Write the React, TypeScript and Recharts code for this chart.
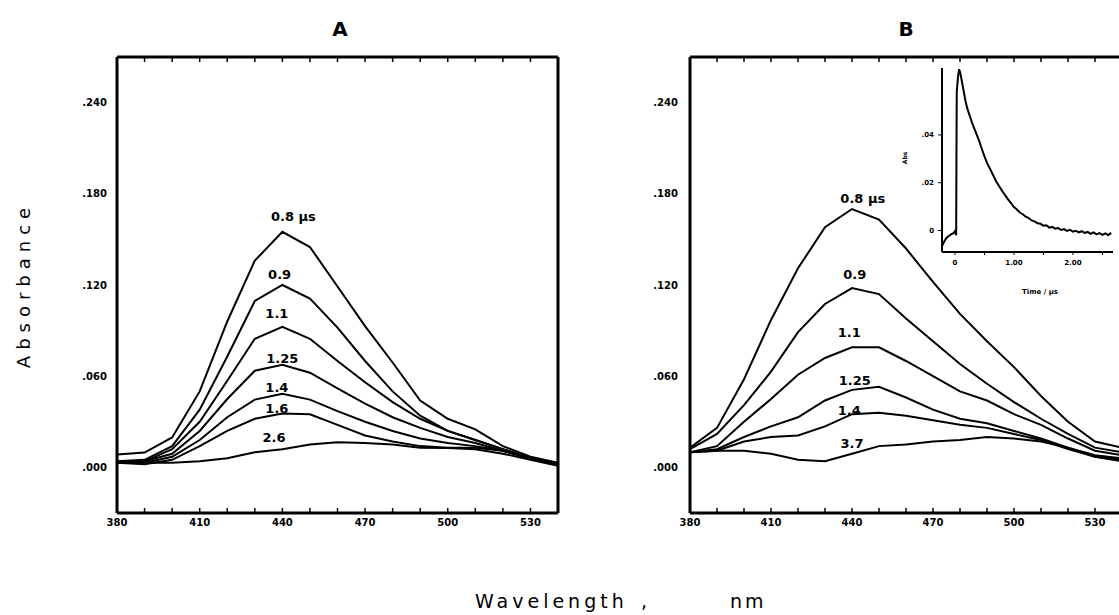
import React from 'react';
import { LineChart, Line, XAxis, YAxis, ReferenceDot } from 'recharts';

// ---------- data ----------
const WAVELENGTHS = [380, 390, 400, 410, 420, 430, 440, 450, 460, 470, 480, 490, 500, 510, 520, 530, 540];

// Panel A
const A_08 = [0.0085, 0.0098, 0.0197, 0.050, 0.096, 0.136, 0.155, 0.145, 0.119, 0.093, 0.069, 0.044, 0.032, 0.025, 0.014, 0.007, 0.003];
const A_09 = [0.004, 0.005, 0.014, 0.038, 0.073, 0.1095, 0.120, 0.111, 0.092, 0.070, 0.050, 0.034, 0.024, 0.018, 0.012, 0.006, 0.002];
const A_11 = [0.003, 0.004, 0.012, 0.030, 0.057, 0.0846, 0.0925, 0.0846, 0.070, 0.056, 0.043, 0.032, 0.024, 0.018, 0.012, 0.006, 0.002];
const A_125 = [0.004, 0.004, 0.009, 0.024, 0.045, 0.0636, 0.0675, 0.0623, 0.052, 0.042, 0.033, 0.026, 0.020, 0.016, 0.011, 0.006, 0.002];
const A_14 = [0.004, 0.003, 0.007, 0.018, 0.033, 0.0446, 0.0485, 0.0446, 0.037, 0.030, 0.024, 0.019, 0.016, 0.014, 0.011, 0.006, 0.002];
const A_16 = [0.003, 0.002, 0.005, 0.014, 0.024, 0.032, 0.0354, 0.035, 0.028, 0.021, 0.017, 0.014, 0.013, 0.013, 0.011, 0.006, 0.002];
const A_26 = [0.003, 0.003, 0.003, 0.004, 0.006, 0.010, 0.012, 0.015, 0.0165, 0.016, 0.015, 0.013, 0.0127, 0.012, 0.009, 0.005, 0.001];

// Panel B
const B_08 = [0.013, 0.026, 0.058, 0.097, 0.131, 0.158, 0.170, 0.163, 0.144, 0.122, 0.101, 0.083, 0.066, 0.047, 0.030, 0.017, 0.013];
const B_09 = [0.012, 0.022, 0.041, 0.063, 0.089, 0.1075, 0.118, 0.114, 0.098, 0.083, 0.068, 0.055, 0.043, 0.032, 0.022, 0.013, 0.010];
const B_11 = [0.010, 0.014, 0.030, 0.045, 0.061, 0.072, 0.079, 0.079, 0.070, 0.060, 0.050, 0.044, 0.035, 0.028, 0.019, 0.011, 0.008];
const B_125 = [0.010, 0.012, 0.020, 0.027, 0.033, 0.044, 0.051, 0.053, 0.046, 0.038, 0.032, 0.029, 0.024, 0.019, 0.013, 0.008, 0.006];
const B_14 = [0.010, 0.011, 0.017, 0.020, 0.021, 0.027, 0.035, 0.036, 0.034, 0.031, 0.028, 0.026, 0.022, 0.018, 0.012, 0.007, 0.005];
const B_37 = [0.010, 0.011, 0.011, 0.009, 0.005, 0.004, 0.009, 0.014, 0.015, 0.017, 0.018, 0.020, 0.019, 0.017, 0.013, 0.007, 0.004];

// curve labels (text, wavelength, absorbance)
const A_LABELS = ['0.8 \u00b5s', '0.9', '1.1', '1.25', '1.4', '1.6', '2.6'];
const A_LABEL_NM = [444, 439, 438, 440, 438, 438, 437];
const A_LABEL_ABS = [0.165, 0.127, 0.101, 0.072, 0.0525, 0.039, 0.0197];

const B_LABELS = ['0.8 \u00b5s', '0.9', '1.1', '1.25', '1.4', '3.7'];
const B_LABEL_NM = [444, 441, 439, 441, 439, 440];
const B_LABEL_ABS = [0.177, 0.127, 0.0885, 0.057, 0.0374, 0.0157];

// axis ticks
const X_MAJOR = [380, 410, 440, 470, 500, 530];
const X_MINOR = [390, 400, 410, 420, 430, 440, 450, 460, 470, 480, 490, 500, 510, 520, 530];
const Y_MAJOR = [0, 0.06, 0.12, 0.18, 0.24];
const Y_MINOR = [0, 0.03, 0.06, 0.09, 0.12, 0.15, 0.18, 0.21, 0.24];

// inset: transient absorbance vs time
const INSET_TIME = [-0.22, -0.18, -0.14, -0.1, -0.06, -0.02, 0.0, 0.02, 0.025, 0.03, 0.05, 0.07, 0.09, 0.12, 0.15, 0.18, 0.21, 0.25, 0.29, 0.33, 0.37, 0.41, 0.45, 0.5, 0.55, 0.6, 0.65, 0.7, 0.75, 0.8, 0.85, 0.9, 0.95, 1.0, 1.05, 1.1, 1.15, 1.2, 1.25, 1.3, 1.35, 1.4, 1.45, 1.5, 1.55, 1.6, 1.65, 1.7, 1.75, 1.8, 1.85, 1.9, 1.95, 2.0, 2.05, 2.1, 2.15, 2.2, 2.25, 2.3, 2.35, 2.4, 2.45, 2.5, 2.55, 2.6, 2.65];
const INSET_ABS = [-0.0065, -0.0045, -0.003, -0.0022, -0.0015, -0.001, -0.0003, -0.002, 0.030, 0.058, 0.064, 0.0675, 0.066, 0.062, 0.058, 0.054, 0.051, 0.048, 0.045, 0.0425, 0.040, 0.0375, 0.0345, 0.031, 0.028, 0.0255, 0.023, 0.0205, 0.0185, 0.0165, 0.0148, 0.013, 0.0115, 0.0098, 0.0088, 0.0075, 0.0068, 0.0058, 0.0052, 0.0042, 0.0038, 0.003, 0.0028, 0.002, 0.0022, 0.0012, 0.0015, 0.0008, 0.001, 0.0002, 0.0006, -0.0002, 0.0003, -0.0005, -0.0001, -0.0008, -0.0003, -0.001, -0.0006, -0.0014, -0.0008, -0.0016, -0.0011, -0.0018, -0.0012, -0.0019, -0.001];
const INSET_X_TICKS = [0, 0.5, 1, 1.5, 2, 2.5];
const INSET_X_LABELS = ['0', '', '1.00', '', '2.00', ''];
const INSET_Y_TICKS = [0, 0.02, 0.04];
const INSET_Y_LABELS = ['0', '.02', '.04'];

// ---------- helpers ----------
const FONT = '"DejaVu Sans", "Noto Sans", sans-serif';
const tickText = { fontSize: 10, fontWeight: 700, fill: '#000', fontFamily: FONT };
const fmtAbs = (v: number) => v.toFixed(3).replace(/^0\./, '.').replace(/^-0\./, '-.');
const blank = () => '';
const Y_DOMAIN: [number, number] = [-0.03, 0.27];

type Series = { key: string; values: number[] };

function buildRows(series: Series[]) {
  return WAVELENGTHS.map((nm, i) => {
    const row: Record<string, number> = { nm };
    series.forEach((s) => {
      row[s.key] = s.values[i];
    });
    return row;
  });
}

type PanelProps = {
  left: number;
  width: number;
  margin: { top: number; right: number; bottom: number; left: number };
  yLabelGap: number;
  series: Series[];
  labels: string[];
  labelNm: number[];
  labelAbs: number[];
};

function Panel({ left, width, margin, yLabelGap, series, labels, labelNm, labelAbs }: PanelProps) {
  const data = buildRows(series);
  const frame = { stroke: '#000', strokeWidth: 3 };
  const tl = { stroke: '#000', strokeWidth: 1.5 };
  return (
    <div style={{ position: 'absolute', left, top: 0 }}>
      <LineChart width={width} height={615} data={data} margin={margin}>
        <XAxis xAxisId="b" dataKey="nm" type="number" domain={[380, 540]} ticks={X_MAJOR} interval={0}
          tickLine={false} tickSize={3} tickMargin={3} height={30} axisLine={frame} tick={tickText} allowDataOverflow />
        <XAxis xAxisId="bm" dataKey="nm" type="number" domain={[380, 540]} ticks={X_MINOR} interval={0}
          mirror tickSize={5} tickFormatter={blank} axisLine={false} tickLine={tl} height={10} />
        <XAxis xAxisId="t" orientation="top" dataKey="nm" type="number" domain={[380, 540]} ticks={X_MINOR} interval={0}
          mirror tickSize={5} tickFormatter={blank} axisLine={frame} tickLine={tl} height={10} />
        <YAxis yAxisId="l" type="number" domain={Y_DOMAIN} ticks={Y_MAJOR} interval={0} width={60}
          tickLine={false} tickSize={yLabelGap} tickMargin={2} tickFormatter={fmtAbs} axisLine={frame} tick={tickText} allowDataOverflow />
        <YAxis yAxisId="lm" type="number" domain={Y_DOMAIN} ticks={Y_MINOR} interval={0} width={10}
          mirror tickSize={5} tickFormatter={blank} axisLine={false} tickLine={tl} />
        <YAxis yAxisId="r" orientation="right" type="number" domain={Y_DOMAIN} ticks={Y_MINOR} interval={0} width={10}
          mirror tickSize={5} tickFormatter={blank} axisLine={frame} tickLine={tl} />
        {series.map((s) => (
          <Line key={s.key} xAxisId="b" yAxisId="l" dataKey={s.key} type="linear" stroke="#000" strokeWidth={2}
            dot={false} activeDot={false} isAnimationActive={false} />
        ))}
        {labels.map((txt, i) => (
          <ReferenceDot key={txt} xAxisId="b" yAxisId="l" x={labelNm[i]} y={labelAbs[i]} r={0} stroke="none" fill="none"
            label={{ value: txt, position: 'center', fontSize: 13, fontWeight: 700, fill: '#000', fontFamily: FONT }} />
        ))}
      </LineChart>
    </div>
  );
}

function Inset() {
  const data = INSET_TIME.map((t, i) => ({ t, a: INSET_ABS[i] }));
  const ax = { stroke: '#000', strokeWidth: 2 };
  const small = { fontSize: 7, fontWeight: 700, fill: '#000', fontFamily: FONT };
  return (
    <div style={{ position: 'absolute', left: 880, top: 60 }}>
      <LineChart width={239} height={240} data={data} margin={{ top: 8, right: 6, bottom: 28, left: 32 }}>
        <XAxis dataKey="t" type="number" domain={[-0.22, 2.68]} ticks={INSET_X_TICKS} interval={0}
          tickFormatter={(v: number) => INSET_X_LABELS[INSET_X_TICKS.indexOf(v)] ?? ''}
          tickSize={3} tickMargin={5} height={20} axisLine={ax} tickLine={{ stroke: '#000', strokeWidth: 1 }} tick={small} allowDataOverflow />
        <YAxis type="number" domain={[-0.009, 0.068]} ticks={INSET_Y_TICKS} interval={0} width={30}
          tickFormatter={(v: number) => INSET_Y_LABELS[INSET_Y_TICKS.indexOf(v)] ?? ''}
          tickSize={4} tickMargin={4} axisLine={ax} tickLine={{ stroke: '#000', strokeWidth: 1 }} tick={small} allowDataOverflow />
        <Line dataKey="a" type="linear" stroke="#000" strokeWidth={2} dot={false} activeDot={false} isAnimationActive={false} />
      </LineChart>
    </div>
  );
}

export default function App() {
  const seriesA: Series[] = [
    { key: 'a08', values: A_08 },
    { key: 'a09', values: A_09 },
    { key: 'a11', values: A_11 },
    { key: 'a125', values: A_125 },
    { key: 'a14', values: A_14 },
    { key: 'a16', values: A_16 },
    { key: 'a26', values: A_26 },
  ];
  const seriesB: Series[] = [
    { key: 'b08', values: B_08 },
    { key: 'b09', values: B_09 },
    { key: 'b11', values: B_11 },
    { key: 'b125', values: B_125 },
    { key: 'b14', values: B_14 },
    { key: 'b37', values: B_37 },
  ];
  return (
    <div style={{ position: 'absolute', left: 0, top: 0, width: 1119, height: 615, overflow: 'hidden', background: '#fff' }}>
      <Panel left={0} width={600} margin={{ top: 57, right: 42, bottom: 72, left: 57 }} yLabelGap={8}
        series={seriesA} labels={A_LABELS} labelNm={A_LABEL_NM} labelAbs={A_LABEL_ABS} />
      <Panel left={600} width={560} margin={{ top: 57, right: 38, bottom: 72, left: 30 }} yLabelGap={10}
        series={seriesB} labels={B_LABELS} labelNm={B_LABEL_NM} labelAbs={B_LABEL_ABS} />
      <Inset />
      <svg width={1119} height={615} style={{ position: 'absolute', left: 0, top: 0, pointerEvents: 'none' }}>
        <text x={340} y={36} textAnchor="middle" fontSize={20} fontWeight={700} fontFamily={FONT}>A</text>
        <text x={906} y={36} textAnchor="middle" fontSize={20} fontWeight={700} fontFamily={FONT}>B</text>
        <text x={0} y={0} transform="translate(30,285) rotate(-90)" textAnchor="middle" fontSize={18} fontWeight={500}
          letterSpacing={6} fontFamily={FONT}>Absorbance</text>
        <text x={475} y={608} fontSize={19} fontWeight={500} letterSpacing={4} fontFamily={FONT}>Wavelength</text>
        <text x={641} y={608} fontSize={19} fontWeight={500} fontFamily={FONT}>,</text>
        <text x={730} y={608} fontSize={19} fontWeight={500} letterSpacing={3} fontFamily={FONT}>nm</text>
        <text x={0} y={0} transform="translate(907,158) rotate(-90)" textAnchor="middle" fontSize={6} fontWeight={700} fontFamily={FONT}>Abs</text>
        <text x={1040} y={294} textAnchor="middle" fontSize={7} fontWeight={700} fontFamily={FONT}>Time / {'\u00b5'}s</text>
      </svg>
    </div>
  );
}
